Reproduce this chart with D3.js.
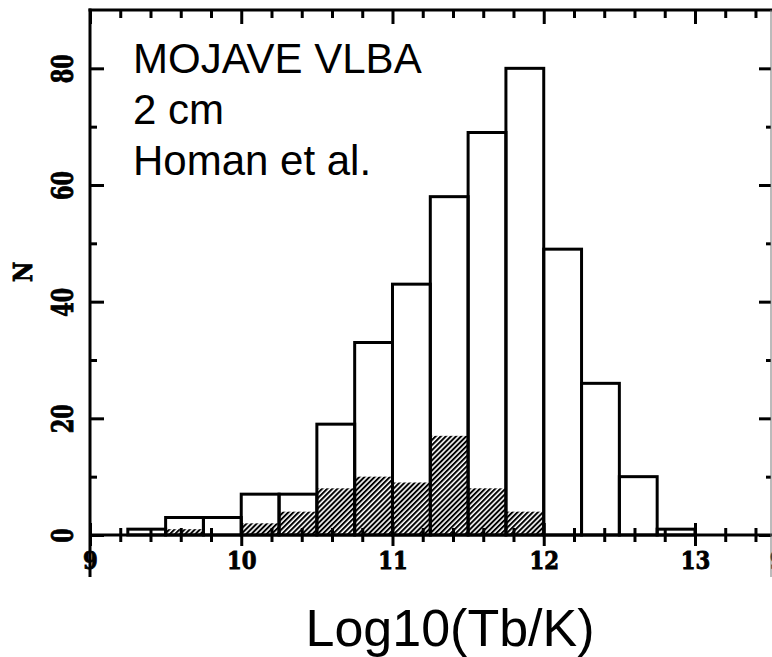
<!doctype html>
<html lang="en">
<head>
<meta charset="utf-8">
<style>
  body { margin: 0; background: #fff; }
  .tick-label { font-family: "DejaVu Serif", serif; font-weight: bold; fill: #000; stroke: #000; stroke-width: 0.9px; }
  .note { font-family: "Liberation Sans", Arial, sans-serif; fill: #000; }
</style>
<script src="https://cdn.jsdelivr.net/npm/d3@7"></script>
</head>
<body>
<svg id="chart" width="772" height="657"></svg>
<script>
// histogram of brightness temperature, bins 0.25 wide
const binStart = [9.25, 9.5, 9.75, 10, 10.25, 10.5, 10.75, 11, 11.25, 11.5, 11.75, 12, 12.25, 12.5, 12.75];
const totalCounts = [1, 3, 3, 7, 7, 19, 33, 43, 58, 69, 80, 49, 26, 10, 1];
const hatchedCounts = [0, 1, 0, 2, 4, 8, 10, 9, 17, 8, 4, 0, 0, 0, 0];
const xMajor = [9, 10, 11, 12, 13];
const yMajor = [0, 20, 40, 60, 80];
const notes = ["MOJAVE VLBA", "2 cm", "Homan et al."];
const binWidth = 0.25;

const svg = d3.select("#chart");
const x = d3.scaleLinear().domain([9, 13.5]).range([90, 770.6]);
const y = d3.scaleLinear().domain([0, 90]).range([535, 10]);

const xMinor = d3.range(9, 13.51, 0.2).map(v => +v.toFixed(2)).filter(v => !xMajor.includes(v));
const yMinor = d3.range(10, 90, 20);

// hatch pattern
svg.append("defs").append("pattern")
  .attr("id", "hatch")
  .attr("patternUnits", "userSpaceOnUse")
  .attr("width", 3.6).attr("height", 3.6)
  .attr("patternTransform", "rotate(45)")
  .append("rect")
  .attr("width", 2.0).attr("height", 3.6)
  .attr("fill", "#000");

const bars = binStart.map((s, i) => ({ s: s, total: totalCounts[i], hatched: hatchedCounts[i] }));

svg.append("g").selectAll("rect")
  .data(bars.filter(d => d.hatched > 0))
  .join("rect")
  .attr("x", d => x(d.s))
  .attr("width", d => x(d.s + binWidth) - x(d.s))
  .attr("y", d => y(d.hatched))
  .attr("height", d => y(0) - y(d.hatched))
  .attr("fill", "url(#hatch)");

svg.append("g").selectAll("rect")
  .data(bars)
  .join("rect")
  .attr("x", d => x(d.s))
  .attr("width", d => x(d.s + binWidth) - x(d.s))
  .attr("y", d => y(d.total))
  .attr("height", d => y(0) - y(d.total))
  .attr("fill", "none")
  .attr("stroke", "#000")
  .attr("stroke-width", 3);

function styleTicks(g, w) {
  g.select(".domain").remove();
  g.selectAll(".tick line").attr("stroke", "#000").attr("stroke-width", w);
  g.selectAll(".tick text").remove();
}

// bottom axis: ticks cross the line
const bMin = svg.append("g").attr("transform", "translate(0,535)")
  .call(d3.axisBottom(x).tickValues(xMinor).tickSize(7).tickFormat(""));
styleTicks(bMin, 3);
bMin.selectAll(".tick line").attr("y1", -7);

const bMaj = svg.append("g").attr("transform", "translate(0,535)")
  .call(d3.axisBottom(x).tickValues(xMajor.concat([13.5])).tickSize(11).tickFormat(d3.format("d")));
bMaj.select(".domain").remove();
bMaj.selectAll(".tick line").attr("stroke", "#000").attr("stroke-width", 3).attr("y1", -12)
  .filter(d => d === 13.5).remove();
bMaj.selectAll(".tick text")
  .attr("class", "tick-label")
  .attr("y", 0).attr("dy", null)
  .attr("font-size", 25)
  .text(d => d === 13.5 ? "9" : d3.format("d")(d))
  .attr("transform", d => d === 13.5 ? "translate(6,34) scale(0.85,1)" : "translate(0,34) scale(0.85,1)");

// top axis: ticks point down
const tMin = svg.append("g").attr("transform", "translate(0,10)")
  .call(d3.axisBottom(x).tickValues(xMinor).tickSize(8).tickFormat(""));
styleTicks(tMin, 3);
const tMaj = svg.append("g").attr("transform", "translate(0,10)")
  .call(d3.axisBottom(x).tickValues(xMajor).tickSize(14).tickFormat(""));
styleTicks(tMaj, 3);

// left axis: ticks point right
const lMin = svg.append("g").attr("transform", "translate(90,0)")
  .call(d3.axisRight(y).tickValues(yMinor).tickSize(7).tickFormat(""));
styleTicks(lMin, 3);
const lMaj = svg.append("g").attr("transform", "translate(90,0)")
  .call(d3.axisRight(y).tickValues(yMajor).tickSize(14).tickFormat(""));
styleTicks(lMaj, 3);

const lLab = svg.append("g").attr("transform", "translate(90,0)")
  .call(d3.axisLeft(y).tickValues(yMajor).tickSize(0));
lLab.select(".domain").remove();
lLab.selectAll(".tick text")
  .attr("class", "tick-label")
  .attr("x", null).attr("dy", null)
  .attr("font-size", 29)
  .attr("text-anchor", "middle")
  .attr("dominant-baseline", "central")
  .attr("transform", "translate(-27,0) rotate(-90) scale(0.72,1)");

// right axis: ticks point left
const rMin = svg.append("g").attr("transform", "translate(771,0)")
  .call(d3.axisLeft(y).tickValues(yMinor).tickSize(5).tickFormat(""));
styleTicks(rMin, 3);
const rMaj = svg.append("g").attr("transform", "translate(771,0)")
  .call(d3.axisLeft(y).tickValues(yMajor).tickSize(12).tickFormat(""));
styleTicks(rMaj, 3);

// frame lines
svg.append("line").attr("x1", 90).attr("x2", 772).attr("y1", 535).attr("y2", 535)
  .attr("stroke", "#000").attr("stroke-width", 3);
svg.append("line").attr("x1", 88.5).attr("x2", 772).attr("y1", 10).attr("y2", 10)
  .attr("stroke", "#000").attr("stroke-width", 3);
svg.append("line").attr("x1", 90).attr("x2", 90).attr("y1", 8.5).attr("y2", 577)
  .attr("stroke", "#000").attr("stroke-width", 3);
svg.append("line").attr("x1", 771).attr("x2", 771).attr("y1", 10).attr("y2", 577)
  .attr("stroke", "#777").attr("stroke-width", 1);

// axis names
svg.append("text")
  .attr("class", "tick-label")
  .attr("font-size", 26)
  .attr("text-anchor", "middle")
  .attr("dominant-baseline", "central")
  .attr("transform", "translate(23,272) rotate(-90) scale(0.85,1)")
  .text("N");

svg.append("text")
  .attr("class", "note")
  .attr("x", 450).attr("y", 646)
  .attr("font-size", 52)
  .attr("text-anchor", "middle")
  .text("Log10(Tb/K)");

svg.append("g").selectAll("text")
  .data(notes)
  .join("text")
  .attr("class", "note")
  .attr("x", 133)
  .attr("y", (d, i) => 73 + i * 51)
  .attr("font-size", 42)
  .text(d => d);
</script>
</body>
</html>
